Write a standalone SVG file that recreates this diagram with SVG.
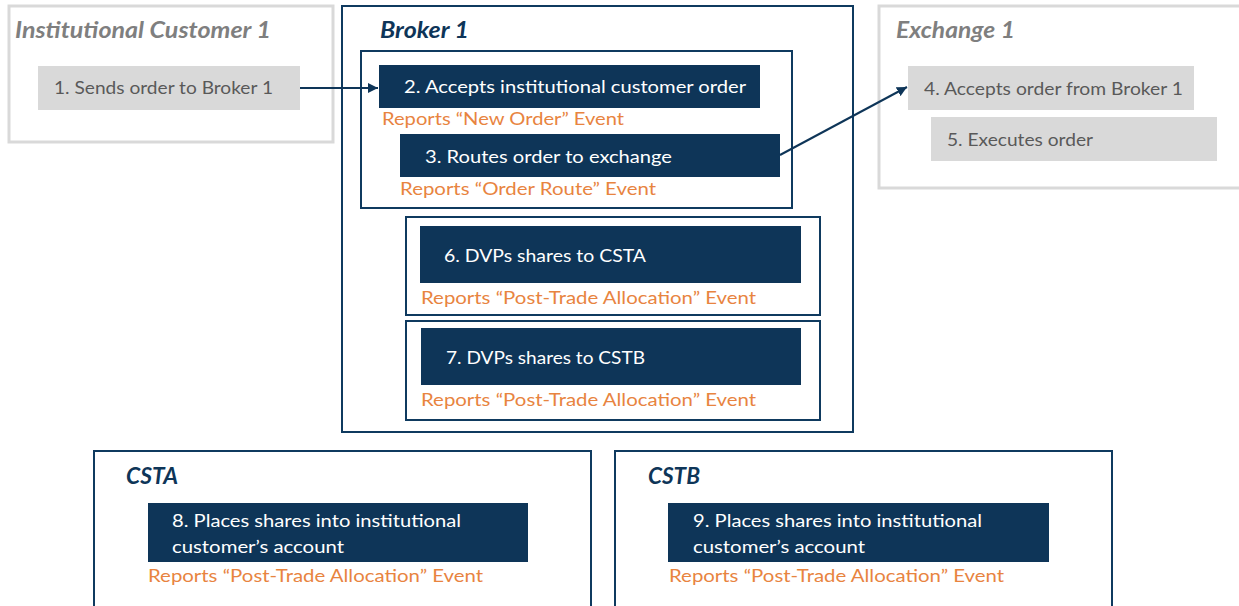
<svg xmlns="http://www.w3.org/2000/svg" width="1239" height="606" viewBox="0 0 1239 606">
<style>
.gframe{fill:#fff;stroke:#d9d9d9;stroke-width:3}
.nframe{fill:#fff;stroke:#0f3a5f;stroke-width:2}
.gbox{fill:#d9d9d9}
.nbox{fill:#0e3558}
.t{font-family:Lato,"Open Sans",sans-serif;font-size:18px}
.gt{fill:#595959}
.wt{fill:#fff}
.ot{fill:#e8843f}
.title{font-family:Lato,"Open Sans",sans-serif;font-size:22px;font-weight:bold;font-style:italic}
.gtitle{fill:#7f7f7f}
.ntitle{fill:#0e3558}
.conn{stroke:#0e3558;stroke-width:2;fill:none}
</style>
<defs>
<marker id="ah" viewBox="0 0 10 10" refX="10" refY="5" markerWidth="5" markerHeight="5" orient="auto" markerUnits="strokeWidth">
<path d="M0,0 L10,5 L0,10 z" fill="#0e3558"/>
</marker>
</defs>
<rect width="1239" height="606" fill="#fff"/>
<g id="inst-customer">
<rect class="gframe" x="9" y="6" width="324" height="136"/>
<text class="title gtitle" x="15" y="38" textLength="256" lengthAdjust="spacingAndGlyphs">Institutional Customer 1</text>
<rect class="gbox" x="38" y="66" width="262" height="44"/>
<text class="t gt" x="54" y="94" textLength="219" lengthAdjust="spacingAndGlyphs">1. Sends order to Broker 1</text>
</g>
<g id="broker1">
<rect class="nframe" x="342" y="6" width="511" height="426"/>
<text class="title ntitle" x="380" y="38" textLength="89" lengthAdjust="spacingAndGlyphs">Broker 1</text>
<rect class="nframe" x="361" y="51" width="431" height="157"/>
</g>
<g id="step2">
<rect class="nbox" x="379" y="65" width="381" height="43"/>
<text class="t wt" x="404" y="93" textLength="342" lengthAdjust="spacingAndGlyphs">2. Accepts institutional customer order</text>
<text class="t ot" x="382" y="125" textLength="242" lengthAdjust="spacingAndGlyphs">Reports “New Order” Event</text>
</g>
<g id="step3">
<rect class="nbox" x="400" y="134" width="380" height="43"/>
<text class="t wt" x="425" y="163" textLength="247" lengthAdjust="spacingAndGlyphs">3. Routes order to exchange</text>
<text class="t ot" x="400" y="195" textLength="256" lengthAdjust="spacingAndGlyphs">Reports “Order Route” Event</text>
</g>
<g id="exchange1">
<rect class="gframe" x="879" y="6" width="365" height="182"/>
<text class="title gtitle" x="896" y="38" textLength="119" lengthAdjust="spacingAndGlyphs">Exchange 1</text>
<rect class="gbox" x="908" y="66" width="286" height="44"/>
<text class="t gt" x="924" y="95" textLength="259" lengthAdjust="spacingAndGlyphs">4. Accepts order from Broker 1</text>
<rect class="gbox" x="931" y="117" width="286" height="44"/>
<text class="t gt" x="947" y="146" textLength="146" lengthAdjust="spacingAndGlyphs">5. Executes order</text>
</g>
<g id="step6">
<rect class="nframe" x="406" y="217" width="414" height="98"/>
<rect class="nbox" x="420" y="226" width="381" height="57"/>
<text class="t wt" x="444" y="262" textLength="202" lengthAdjust="spacingAndGlyphs">6. DVPs shares to CSTA</text>
<text class="t ot" x="421" y="304" textLength="335" lengthAdjust="spacingAndGlyphs">Reports “Post-Trade Allocation” Event</text>
</g>
<g id="step7">
<rect class="nframe" x="406" y="321" width="414" height="99"/>
<rect class="nbox" x="421" y="328" width="380" height="57"/>
<text class="t wt" x="446" y="364" textLength="199" lengthAdjust="spacingAndGlyphs">7. DVPs shares to CSTB</text>
<text class="t ot" x="421" y="406" textLength="335" lengthAdjust="spacingAndGlyphs">Reports “Post-Trade Allocation” Event</text>
</g>
<g id="csta">
<rect class="nframe" x="94" y="451" width="497" height="170"/>
<text class="title ntitle" x="126" y="484" textLength="52" lengthAdjust="spacingAndGlyphs">CSTA</text>
<rect class="nbox" x="148" y="503" width="380" height="59"/>
<text class="t wt" x="172" y="527" textLength="289" lengthAdjust="spacingAndGlyphs">8. Places shares into institutional</text>
<text class="t wt" x="172" y="553" textLength="172" lengthAdjust="spacingAndGlyphs">customer’s account</text>
<text class="t ot" x="148" y="582" textLength="335" lengthAdjust="spacingAndGlyphs">Reports “Post-Trade Allocation” Event</text>
</g>
<g id="cstb">
<rect class="nframe" x="615" y="451" width="497" height="170"/>
<text class="title ntitle" x="648" y="484" textLength="52" lengthAdjust="spacingAndGlyphs">CSTB</text>
<rect class="nbox" x="668" y="503" width="381" height="59"/>
<text class="t wt" x="693" y="527" textLength="289" lengthAdjust="spacingAndGlyphs">9. Places shares into institutional</text>
<text class="t wt" x="693" y="553" textLength="172" lengthAdjust="spacingAndGlyphs">customer’s account</text>
<text class="t ot" x="669" y="582" textLength="335" lengthAdjust="spacingAndGlyphs">Reports “Post-Trade Allocation” Event</text>
</g>
<g id="connectors">
<line class="conn" x1="300" y1="88" x2="378" y2="88" marker-end="url(#ah)"/>
<line class="conn" x1="780" y1="155" x2="907" y2="87" marker-end="url(#ah)"/>
</g>
</svg>
